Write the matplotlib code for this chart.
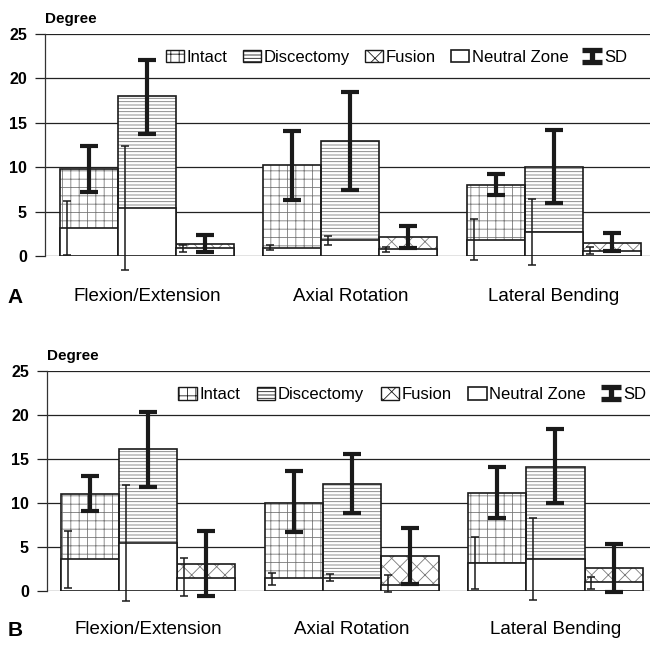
import matplotlib
matplotlib.use("Agg")
import matplotlib.pyplot as plt
import numpy as np
from matplotlib.patches import Patch
from matplotlib.legend_handler import HandlerErrorbar
from matplotlib.container import ErrorbarContainer

plt.rcParams['font.family'] = ['Liberation Sans', 'DejaVu Sans']
plt.rcParams['hatch.linewidth'] = 0.6

categories = ["Flexion/Extension", "Axial Rotation", "Lateral Bending"]
conditions = ["Intact", "Discectomy", "Fusion"]

# Panel A: range of motion (mean, SD) and neutral zone (mean, SD)
a_rom = [[9.8, 18.0, 1.3], [10.2, 13.0, 2.1], [8.0, 10.0, 1.5]]
a_rom_sd = [[2.6, 4.2, 0.95], [3.9, 5.5, 1.25], [1.2, 4.1, 1.0]]
a_rom_mid = [[9.84, 17.9, 1.36], [10.22, 12.93, 2.1], [8.05, 10.1, 1.6]]
a_nz = [[3.2, 5.35, 0.85], [0.95, 1.8, 0.75], [1.85, 2.7, 0.6]]
a_nz_sd = [[3.0, 7.0, 0.4], [0.3, 0.5, 0.3], [2.3, 3.7, 0.4]]
a_nz_mid = [[3.15, 5.4, 0.8], [0.95, 1.76, 0.7], [1.85, 2.7, 0.65]]

# Panel B
b_rom = [[11.0, 16.1, 3.0], [10.0, 12.1, 3.9], [11.1, 14.1, 2.6]]
b_rom_sd = [[2.0, 4.3, 3.7], [3.5, 3.35, 3.2], [2.9, 4.25, 2.75]]
b_rom_mid = [[11.06, 16.04, 3.05], [10.13, 12.14, 3.96], [11.2, 14.17, 2.56]]
b_nz = [[3.55, 5.4, 1.5], [1.4, 1.5, 0.7], [3.1, 3.65, 0.95]]
b_nz_sd = [[3.25, 6.6, 2.15], [0.7, 0.4, 1.0], [2.9, 4.65, 0.72]]
b_nz_mid = [[3.58, 5.45, 1.59], [1.35, 1.55, 0.84], [3.15, 3.65, 0.87]]

yticks = [0, 5, 10, 15, 20, 25]

hatches = ['++', '-----', 'xx']
hatch_color = '#7a7a7a'

W, H = 650, 645
fig = plt.figure(figsize=(W / 100, H / 100), dpi=100)

bar_w = 0.285


def panel(rect, rom, rom_sd, rom_mid, nz, nz_sd, nz_mid, xlim, lab_y, leg_x, leg_y, colsp):
    ax = fig.add_axes(rect)
    ax.set_xlim(*xlim)
    ax.set_ylim(0, 25)
    ax.set_yticks(yticks)
    ax.set_yticklabels([str(t) for t in yticks], fontweight='bold', fontsize=11.5)
    ax.tick_params(axis='y', length=7, width=0.9, color='#222222', pad=6)
    ax.tick_params(axis='x', length=0)
    ax.set_xticks([])
    for s in ['top', 'right', 'bottom']:
        ax.spines[s].set_visible(False)
    ax.spines['left'].set_linewidth(0.9)
    ax.spines['left'].set_color('#333333')
    for t in yticks:
        ax.axhline(t, color='#222222', lw=0.9, zorder=0)
    for g in range(3):
        for c in range(3):
            x = g + (c - 1) * bar_w
            ax.bar(x, rom[g][c], width=bar_w, facecolor='white', edgecolor=hatch_color,
                   hatch=hatches[c], linewidth=0, zorder=2)
            ax.bar(x, rom[g][c], width=bar_w, facecolor='none', edgecolor='#1a1a1a',
                   linewidth=1.2, zorder=3)
            ax.bar(x, nz[g][c], width=bar_w, facecolor='white', edgecolor='#1a1a1a',
                   linewidth=1.2, zorder=4)
            xe = x - bar_w / 2 + 0.034
            ax.errorbar(xe, nz_mid[g][c], yerr=nz_sd[g][c], fmt='none', ecolor='#1a1a1a',
                        elinewidth=1.1, capsize=3, capthick=1.1, zorder=5, clip_on=False)
            ax.errorbar(x, rom_mid[g][c], yerr=rom_sd[g][c], fmt='none', ecolor='#1a1a1a',
                        elinewidth=3.0, capsize=6.5, capthick=3.0, zorder=6, clip_on=False)
        ax.text(g, lab_y, categories[g], ha='center', va='center', fontsize=13.5,
                transform=ax.transData, clip_on=False)
    # legend
    handles = []
    for c in range(3):
        handles.append(Patch(facecolor='white', edgecolor='#1a1a1a', hatch=hatches[c],
                             linewidth=1.0, label=conditions[c]))
    handles.append(Patch(facecolor='white', edgecolor='#1a1a1a', linewidth=1.2,
                         label='Neutral Zone'))
    sd = ax.errorbar([0], [-100], yerr=[1], fmt='none', ecolor='#1a1a1a', elinewidth=3.8,
                     capsize=7, capthick=3.8, label='SD')
    handles.append(sd)
    leg = ax.legend(handles=handles, ncol=5, loc='center left',
                    bbox_to_anchor=(leg_x, leg_y), frameon=False, fontsize=12,
                    handlelength=1.1, handleheight=0.75, handletextpad=0.15,
                    columnspacing=colsp, borderaxespad=0, borderpad=0,
                    handler_map={ErrorbarContainer: HandlerErrorbar(yerr_size=0.36)})
    leg.set_zorder(10)
    ax.text(0.0, 25.9, 'Degree', transform=ax.get_yaxis_transform(), fontsize=11,
            fontweight='bold', ha='left', va='bottom')
    return ax


def fy(px):
    return 1 - px / H


axA = panel([45 / W, fy(256), 1 - 45 / W, (256 - 34) / H], a_rom, a_rom_sd, a_rom_mid,
            a_nz, a_nz_sd, a_nz_mid, (-0.502, 2.474), -4.6, 0.2, 0.895, 0.9)
axB = panel([47 / W, fy(590.7), 1 - 47 / W, (590.7 - 370.7) / H], b_rom, b_rom_sd, b_rom_mid,
            b_nz, b_nz_sd, b_nz_mid, (-0.496, 2.464), -4.45, 0.218, 0.89, 1.0)

fig.text(15 / W, fy(297), 'A', fontsize=15, fontweight='bold', ha='center', va='center')
fig.text(15 / W, fy(630), 'B', fontsize=15, fontweight='bold', ha='center', va='center')

fig.savefig('out.png', dpi=100)
